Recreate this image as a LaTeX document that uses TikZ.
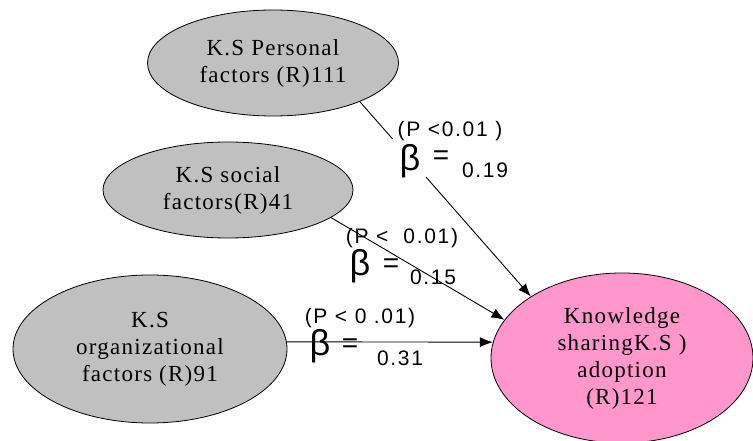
\documentclass[tikz,border=0pt]{standalone}
\usepackage{fontspec}
\setmainfont{Liberation Serif}[LetterSpace=5.5]
\newfontfamily\labfont{Liberation Sans}[LetterSpace=8]
\newfontfamily\betafont{Liberation Sans}
\usetikzlibrary{shapes.geometric,arrows.meta}
\definecolor{factgray}{RGB}{192,192,192}
\definecolor{adoptpink}{RGB}{255,150,204}
\begin{document}
\begin{tikzpicture}[x=1pt,y=-1pt,
  factor/.style={ellipse,draw=black,line width=0.8pt,fill=factgray,inner sep=0pt,align=center,font=\fontsize{23}{27}\selectfont},
  target/.style={factor,fill=adoptpink},
  link/.style={draw=black,line width=0.9pt,-{Latex[length=13pt,width=10pt]}},
  ptext/.style={font=\labfont\fontsize{21}{24}\selectfont,inner sep=0pt},
  beta/.style={font=\betafont\fontsize{36}{38}\selectfont,inner sep=0pt},
  eqs/.style={font=\betafont\fontsize{28}{30}\selectfont,inner sep=0pt,text height=16pt,text depth=0pt},
  val/.style={font=\labfont\fontsize{21}{24}\selectfont,inner sep=0pt}]
\useasboundingbox (0,0) rectangle (753,441);
\node[factor,minimum width=251pt,minimum height=106pt] (pers) at (273,63) {K.S Personal\\factors (R)111};
\node[factor,minimum width=250pt,minimum height=96pt] (soc) at (228,190) {K.S social\\factors(R)41};
\node[factor,minimum width=274pt,minimum height=148pt] (org) at (150,349) {K.S\\organizational\\factors (R)91};
\node[target,minimum width=262pt,minimum height=170pt] (tgt) at (622,358) {Knowledge\\sharingK.S )\\adoption\\(R)121};
% connectors
\draw[link] (pers.-24) -- (tgt.146);
\draw[link] (soc.-15) -- (tgt.162);
\draw[link] (org.3) -- (tgt.173);
% labels on personal link (white background hides the line)
\node[fill=white,minimum width=44pt,minimum height=38pt,inner sep=0pt] (gap1) at (412,158) {};
\node[ptext] (p1) at (450,131) {(P <0.01 )};
\node[beta] (b1) at (410,161) {β};
\node[eqs] (e1) at (441,157) {=};
\node[val] (v1) at (485,170) {0.19};
% labels on social link
\node[ptext] (p2) at (402,238) {(P <\ \ 0.01)};
\node[beta] (b2) at (360,266) {β};
\node[eqs] (e2) at (391,264) {=};
\node[val] (v2) at (433,277) {0.15};
% labels on organizational link
\node[ptext] (p3) at (360,318) {(P < 0 .01)};
\node[beta] (b3) at (320,346) {β};
\node[eqs] (e3) at (350,344) {=};
\node[val] (v3) at (400,358) {0.31};
\end{tikzpicture}
\end{document}
